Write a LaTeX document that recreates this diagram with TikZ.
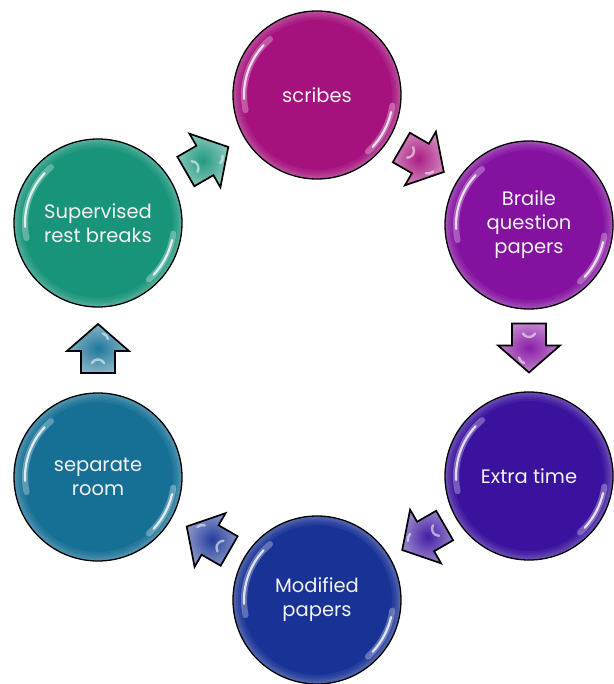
\documentclass[tikz,border=0pt]{standalone}
\usepackage{fontspec}
\setmainfont{Poppins}
\usetikzlibrary{calc}

\definecolor{cScribe}{RGB}{165,17,125}
\definecolor{cBraile}{RGB}{133,17,161}
\definecolor{cExtra}{RGB}{58,18,158}
\definecolor{cMod}{RGB}{25,50,150}
\definecolor{cSep}{RGB}{22,112,150}
\definecolor{cSup}{RGB}{24,148,122}

\tikzset{
  bubble/.style={circle, minimum size=168pt, inner sep=0pt, fill=#1,
    draw=black, line width=1.3pt, text=white!95!black, align=center,
    font=\fontsize{19.5}{24}\selectfont,
    path picture={
      % soft light rim inside the outline
      \foreach \w in {3,6,9,13,18}
        \draw[white, opacity=0.06, line width=\w pt]
          (path picture bounding box.center) circle[radius=84pt];
      % glossy streaks
      \draw[white, opacity=0.3, line width=6pt, line cap=round]
        ([shift={(130:73pt)}]path picture bounding box.center)
        arc[start angle=130, end angle=192, radius=73pt];
      \draw[white, opacity=0.8, line width=2.2pt, line cap=round]
        ([shift={(137:73pt)}]path picture bounding box.center)
        arc[start angle=137, end angle=183, radius=73pt];
      \draw[white, opacity=0.3, line width=6pt, line cap=round]
        ([shift={(-8:76pt)}]path picture bounding box.center)
        arc[start angle=-8, end angle=-48, radius=76pt];
      \draw[white, opacity=0.8, line width=2.2pt, line cap=round]
        ([shift={(-13:76pt)}]path picture bounding box.center)
        arc[start angle=-13, end angle=-43, radius=76pt];
    }},
  arrowbody/.style={draw=black, line width=1.7pt, line join=miter,
    inner color=#1, outer color=#1!55!white},
  arrowshine/.style={white, opacity=0.55, line width=2.4pt, line cap=round},
}

% block arrow at a named point, rotated to the given angle
\newcommand\cyclearrow[3]{%
  \begin{scope}[shift={(#1)}, rotate=#2]
    \shade[arrowbody=#3]
      (-25,-17) -- (-3,-17) -- (-3,-31) -- (24,0) -- (-3,31)
      -- (-3,17) -- (-25,17) -- cycle;
    \draw[arrowshine] (-15,-6) arc[start angle=-60, end angle=60, radius=7];
    \draw[arrowshine] (9,-10) arc[start angle=-80, end angle=-15, radius=7];
  \end{scope}}

\begin{document}
\begin{tikzpicture}[x=1pt, y=1pt]
  \useasboundingbox (0,0) rectangle (613,-684);

  \node[bubble=cScribe] (sc) at (317,-95)  {scribes};
  \node[bubble=cBraile] (br) at (529,-225) {Braile\\question\\papers};
  \node[bubble=cExtra]  (ex) at (529,-476) {Extra time};
  \node[bubble=cMod]    (mo) at (317,-600) {Modified\\papers};
  \node[bubble=cSep]    (se) at (98,-477)  {separate\\room};
  \node[bubble=cSup]    (su) at (98,-223)  {Supervised\\rest breaks};

  \coordinate (m1) at ($(sc)!0.5!(br)$);
  \coordinate (m2) at ($(br)!0.5!(ex)+(0,2)$);
  \coordinate (m3) at ($(ex)!0.5!(mo)$);
  \coordinate (m4) at ($(mo)!0.5!(se)$);
  \coordinate (m5) at ($(se)!0.5!(su)+(0,2)$);
  \coordinate (m6) at ($(su)!0.5!(sc)$);

  \cyclearrow{m1}{-30}{cScribe!95!white}
  \cyclearrow{m2}{-90}{cBraile!95!white}
  \cyclearrow{m3}{210}{cExtra!95!white}
  \cyclearrow{m4}{150}{cMod!95!white}
  \cyclearrow{m5}{90}{cSep!95!white}
  \cyclearrow{m6}{30}{cSup!95!white}
\end{tikzpicture}
\end{document}
